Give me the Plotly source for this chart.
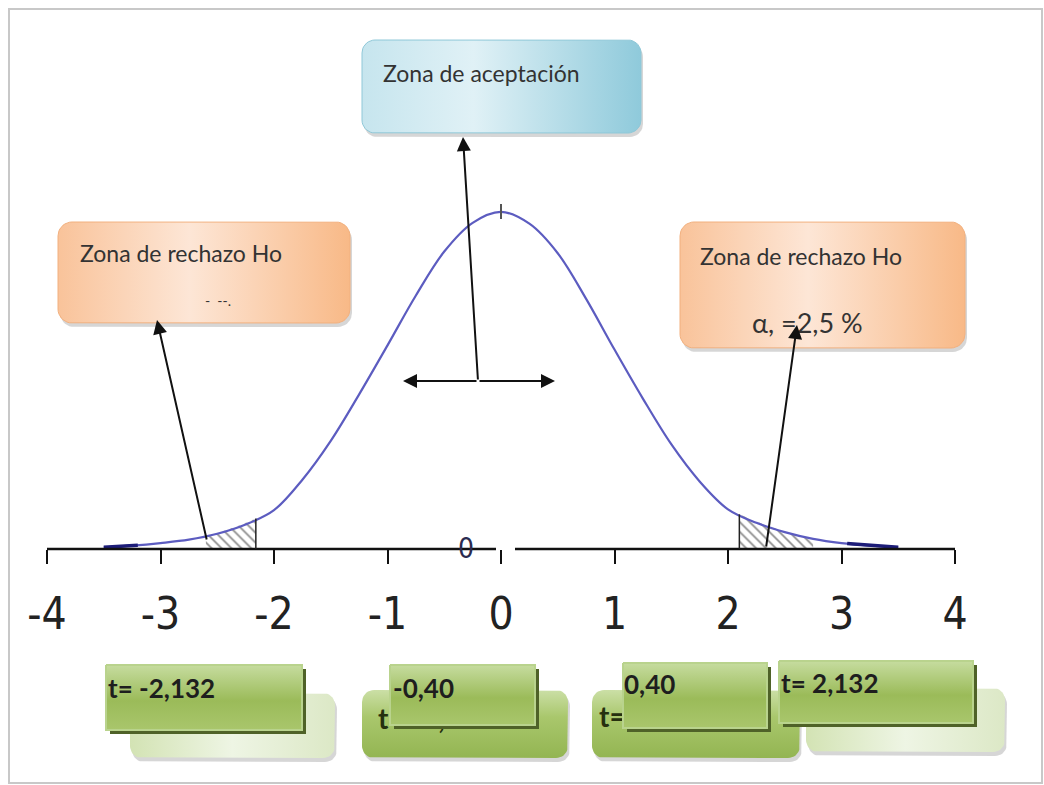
import numpy as np
import plotly.graph_objects as go

# ---------------- data ----------------
t_values = [-3.5, -3.25, -3.0, -2.75, -2.5, -2.25, -2.0, -1.75, -1.5, -1.25, -1.0, -0.75, -0.5, -0.25,
            0.0, 0.25, 0.5, 0.75, 1.0, 1.25, 1.5, 1.75, 2.0, 2.25, 2.5, 2.75, 3.0, 3.25, 3.5]
density = [0.002, 0.004, 0.007, 0.011, 0.018, 0.029, 0.046, 0.082, 0.128, 0.183, 0.241, 0.300, 0.352, 0.386,
           0.399, 0.385, 0.350, 0.296, 0.236, 0.178, 0.124, 0.080, 0.047, 0.031, 0.020, 0.012, 0.007, 0.004, 0.002]

left_tail_x = [-3.5, -3.2]
left_tail_y = [0.002, 0.0045]
right_tail_x = [3.05, 3.5]
right_tail_y = [0.0065, 0.002]

left_hatch_x = [-2.6, -2.45, -2.3, -2.16]
left_hatch_y = [0.015, 0.021, 0.028, 0.036]
right_hatch_x = [2.10, 2.3, 2.5, 2.75]
right_hatch_y = [0.041, 0.030, 0.020, 0.012]
hatch_edges = [(-2.16, 0.036), (2.10, 0.041)]

tick_vals = [-4, -3, -2, -1, 0, 1, 2, 3, 4]
tick_text = ["-4", "-3", "-2", "-1", "0", "1", "2", "3", "4"]

zone_accept = "Zona de aceptación"
zone_reject = "Zona de rechazo Ho"
alpha_text = "α, =2,5 %"
t_labels = ["t= -2,132", "-0,40", "0,40", "t= 2,132"]
hidden_labels = ["t= -0,40", "t= 0,40"]

# ---------------- pixel <-> data helpers ----------------
W, H = 1044, 785
X0PX, UPX = 47.0, 113.5       # pixel of x=-4, pixels per unit
Y0PX, UPY = 549.0, 845.0      # pixel of density 0, pixels per density unit


def dx(px):
    return -4 + (px - X0PX) / UPX


def dy(py):
    return (Y0PX - py) / UPY


def rr_pts(x0, y0, x1, y1, r, n=10):
    xs, ys = [], []
    for cx, cy, a0 in [(x0 + r, y0 + r, 180), (x1 - r, y0 + r, 270),
                       (x1 - r, y1 - r, 0), (x0 + r, y1 - r, 90)]:
        for a in np.linspace(a0, a0 + 90, n):
            xs.append(cx + r * np.cos(np.radians(a)))
            ys.append(cy + r * np.sin(np.radians(a)))
    xs.append(xs[0]); ys.append(ys[0])
    return [dx(v) for v in xs], [dy(v) for v in ys]


fig = go.Figure()


def add_poly(xs, ys, fill, line_color=None, lw=0, grad=None):
    kw = dict(x=xs, y=ys, mode="lines", fill="toself", hoverinfo="skip",
              line=dict(color=line_color or "rgba(0,0,0,0)", width=lw))
    if grad is not None:
        kw["fillgradient"] = grad
    else:
        kw["fillcolor"] = fill
    fig.add_trace(go.Scatter(**kw))


# ---------------- curve and rejection areas ----------------
hatch = dict(shape="\\", fgcolor="#1a1a1a", bgcolor="rgba(0,0,0,0)", size=7, solidity=0.25)
fig.add_trace(go.Scatter(x=left_hatch_x, y=left_hatch_y, fill="tozeroy", mode="lines",
                         line=dict(width=0), fillpattern=hatch, hoverinfo="skip"))
fig.add_trace(go.Scatter(x=right_hatch_x, y=right_hatch_y, fill="tozeroy", mode="lines",
                         line=dict(width=0), fillpattern=hatch, hoverinfo="skip"))
fig.add_trace(go.Scatter(x=t_values, y=density, mode="lines", line_shape="spline",
                         line=dict(color="#5c5cc0", width=2.2), hoverinfo="skip"))
fig.add_trace(go.Scatter(x=left_tail_x, y=left_tail_y, mode="lines",
                         line=dict(color="#1c1c78", width=3.5), hoverinfo="skip"))
fig.add_trace(go.Scatter(x=right_tail_x, y=right_tail_y, mode="lines",
                         line=dict(color="#1c1c78", width=3.5), hoverinfo="skip"))

# ---------------- callout boxes ----------------
def soft_box(x0, y0, x1, y1, r, grad, border):
    sx, sy = rr_pts(x0 + 2, y0 + 4, x1 + 2, y1 + 4, r)
    add_poly(sx, sy, "rgba(0,0,0,0.16)")
    bx, by = rr_pts(x0, y0, x1, y1, r)
    add_poly(bx, by, None, border, 1, grad)


soft_box(362, 40, 641, 133, 13,
         dict(type="horizontal", colorscale=[[0, "#c6e5ee"], [0.4, "#e0f1f6"], [1, "#8fcadb"]]),
         "#8fc8d8")
orange = dict(type="horizontal", colorscale=[[0, "#f9c39a"], [0.45, "#fde6d6"], [1, "#f8b987"]])
soft_box(58, 222, 350, 323, 14, orange, "#f2b07e")
soft_box(680, 222, 965, 348, 14, orange, "#f2b07e")

# ---------------- bottom green boxes ----------------
light_g = dict(type="horizontal", colorscale=[[0, "#d3e3b4"], [0.5, "#eef5e4"], [1, "#dce8c6"]])
mid_g = dict(type="vertical", colorscale=[[0, "#93b552"], [0.6, "#a9c76c"], [1, "#cbdfa6"]])
for (x0, y0, x1, y1), g in zip([(130, 693, 335, 758), (362, 690, 568, 758),
                                (592, 690, 800, 758), (806, 688, 1005, 752)],
                               [light_g, mid_g, mid_g, light_g]):
    soft_box(x0, y0, x1, y1, 12, g, "rgba(0,0,0,0)")

fig.add_trace(go.Scatter(x=[dx(378), dx(599)], y=[dy(722), dy(720)], mode="text",
                         text=["<b>%s</b>" % s for s in hidden_labels], textposition="middle right",
                         hoverinfo="skip",
                         textfont=dict(family="Lato, Open Sans, sans-serif", size=28, color="#26300f")))

fg_grad = dict(type="vertical", colorscale=[[0, "#a9c66c"], [0.45, "#9bbb59"], [1, "#c6dc9f"]])
fg_boxes = [(106, 665, 302, 730), (390, 665, 535, 725), (623, 663, 767, 728), (779, 661, 973, 723)]
for (x0, y0, x1, y1) in fg_boxes:
    sx = [dx(v) for v in [x0 + 4, x1 + 4, x1 + 4, x0 + 4, x0 + 4]]
    sy = [dy(v) for v in [y0 + 4, y0 + 4, y1 + 4, y1 + 4, y0 + 4]]
    add_poly(sx, sy, "#4f6228")
    bx = [dx(v) for v in [x0, x1, x1, x0, x0]]
    by = [dy(v) for v in [y0, y0, y1, y1, y0]]
    add_poly(bx, by, None, "#b9d38d", 2, fg_grad)

# ---------------- shapes: axis line, critical lines, frame ----------------
shapes = [
    dict(type="line", xref="x", yref="y", x0=dx(47), x1=dx(496), y0=0, y1=0,
         line=dict(color="#111111", width=2.5)),
    dict(type="line", xref="x", yref="y", x0=dx(515), x1=dx(955), y0=0, y1=0,
         line=dict(color="#111111", width=2.5)),
    dict(type="line", xref="x", yref="y", x0=0, x1=0, y0=dy(219), y1=dy(204),
         line=dict(color="#555555", width=2)),
    dict(type="rect", xref="paper", yref="paper", x0=9 / W, x1=1042 / W, y0=1 - 783 / H, y1=1 - 9 / H,
         line=dict(color="#c8c8c8", width=2), fillcolor="rgba(0,0,0,0)"),
]
for ex, ey in hatch_edges:
    shapes.append(dict(type="line", xref="x", yref="y", x0=ex, x1=ex, y0=0, y1=ey,
                       line=dict(color="#222222", width=1.5)))

# ---------------- annotations ----------------
box_font = dict(family="Lato, Open Sans, sans-serif", size=23, color="#333333")
ann = [
    dict(x=dx(381), y=dy(73), text=zone_accept, font=box_font),
    dict(x=dx(78), y=dy(253), text=zone_reject, font=box_font),
    dict(x=dx(698), y=dy(256), text=zone_reject, font=box_font),
    dict(x=dx(750), y=dy(322), text=alpha_text,
         font=dict(family="Lato, Open Sans, sans-serif", size=27, color="#333333")),
    dict(x=dx(203), y=dy(300), text="-  --.", font=dict(family="Lato, sans-serif", size=14, color="#333333")),
    dict(x=dx(456), y=dy(548), text="0",
         font=dict(family="Liberation Sans Narrow, DejaVu Sans Condensed, sans-serif", size=28, color="#2b2b50")),
]
lbl_pos = [(106, 688), (391, 688), (622, 684), (779, 683)]
for (px, py), t in zip(lbl_pos, t_labels):
    ann.append(dict(x=dx(px), y=dy(py), text="<b>%s</b>" % t,
                    font=dict(family="Lato, Open Sans, sans-serif", size=26, color="#1e1e1e")))
for a in ann:
    a.update(xref="x", yref="y", xanchor="left", yanchor="middle", showarrow=False)

arrow = dict(xref="x", yref="y", text="", showarrow=True, arrowhead=2, arrowsize=1.4,
             arrowwidth=2, arrowcolor="#111111", axref="pixel", ayref="pixel", standoff=0)
for (tx, ty, tailx, taily) in [(463, 137, 478, 381), (157, 320, 207, 541), (797, 325, 766, 548),
                               (403, 381, 478, 381), (555, 381, 478, 381)]:
    a = dict(arrow)
    a.update(x=dx(tx), y=dy(ty), ax=tailx - tx, ay=taily - ty)
    ann.append(a)

fig.update_layout(
    width=W, height=H, margin=dict(l=0, r=0, t=0, b=0),
    paper_bgcolor="white", plot_bgcolor="white", showlegend=False,
    shapes=shapes, annotations=ann,
    xaxis=dict(range=[dx(0), dx(W)], showgrid=False, zeroline=False, showline=False,
               tickmode="array", tickvals=tick_vals, ticktext=tick_text,
               ticks="outside", ticklen=14, tickwidth=2, tickcolor="#111111",
               ticklabelstandoff=12,
               tickfont=dict(family="Liberation Sans Narrow, DejaVu Sans Condensed, Arial Narrow, sans-serif",
                             size=44, color="#222222"),
               anchor="free", position=(H - Y0PX) / H, fixedrange=True),
    yaxis=dict(range=[dy(H), dy(0)], visible=False, fixedrange=True),
)

fig.write_html("out.html", config={"displayModeBar": False},
               post_script="document.body.style.margin='0px';document.body.style.overflow='hidden';")
